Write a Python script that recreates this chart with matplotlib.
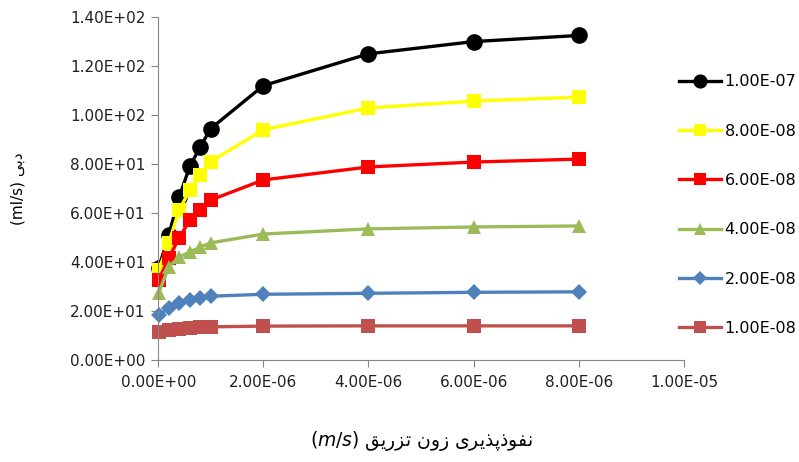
import matplotlib
matplotlib.use('Agg')
import matplotlib.pyplot as plt
from matplotlib.ticker import FuncFormatter, MultipleLocator

# ======================
# data
# ======================
perm = [1e-8, 2e-7, 4e-7, 6e-7, 8e-7, 1e-6, 2e-6, 4e-6, 6e-6, 8e-6]

q_1e7 = [37.5, 51.0, 66.5, 79.0, 87.0, 94.5, 112.0, 125.0, 130.0, 132.5]
q_8e8 = [36.7, 47.8, 61.2, 69.4, 75.5, 81.0, 94.0, 102.9, 105.7, 107.3]
q_6e8 = [32.7, 41.6, 49.8, 57.1, 61.2, 65.3, 73.5, 78.8, 80.8, 82.0]
q_4e8 = [27.3, 38.0, 42.0, 44.0, 46.1, 47.8, 51.4, 53.5, 54.3, 54.7]
q_2e8 = [18.4, 21.2, 23.3, 24.5, 25.3, 26.0, 26.8, 27.2, 27.6, 27.8]
q_1e8 = [11.4, 12.2, 12.7, 13.0, 13.3, 13.5, 13.8, 13.9, 13.9, 13.9]

labels = ['1.00E-07', '8.00E-08', '6.00E-08', '4.00E-08', '2.00E-08', '1.00E-08']
series = [q_1e7, q_8e8, q_6e8, q_4e8, q_2e8, q_1e8]
colors = ['#000000', '#FFFF00', '#FF0000', '#9BBB59', '#4F81BD', '#C0504D']
markers = ['o', 's', 's', '^', 'D', 's']
msizes = [12, 10.5, 10.5, 10.5, 8.5, 10.5]

xlabel_fa = 'نفوذپذیری زون تزریق'
ylabel_fa = 'دبی'


# matplotlib has no arabic shaping -> small hand-made shaper
FORMS = {
    'ن': '\uFEE5\uFEE6\uFEE7\uFEE8',
    'ف': '\uFED1\uFED2\uFED3\uFED4',
    'پ': '\uFB56\uFB57\uFB58\uFB59',
    'ی': '\uFBFC\uFBFD\uFBFE\uFBFF',
    'ت': '\uFE95\uFE96\uFE97\uFE98',
    'ق': '\uFED5\uFED6\uFED7\uFED8',
    'ب': '\uFE8F\uFE90\uFE91\uFE92',
    'و': '\uFEED\uFEEE',
    'ذ': '\uFEAB\uFEAC',
    'ر': '\uFEAD\uFEAE',
    'ز': '\uFEAF\uFEB0',
    'د': '\uFEA9\uFEAA',
}


def shape(txt):
    out = []
    for i, ch in enumerate(txt):
        if ch not in FORMS:
            out.append(ch)
            continue
        prev = txt[i - 1] if i > 0 else ''
        nxt = txt[i + 1] if i + 1 < len(txt) else ''
        dual = len(FORMS[ch]) == 4
        join_prev = prev in FORMS and len(FORMS[prev]) == 4
        join_next = dual and nxt in FORMS
        idx = (1 if join_prev else 0) + (2 if join_next else 0)
        out.append(FORMS[ch][idx])
    return ''.join(out)[::-1]


# ======================
# plot
# ======================
fig = plt.figure(figsize=(7.99, 4.62), dpi=100)
ax = fig.add_axes([0.198, 0.221, 0.658, 0.742])

for ys, lab, c, m, ms in zip(series, labels, colors, markers, msizes):
    ax.plot(perm, ys, color=c, marker=m, markersize=ms, linewidth=2.4,
            label=lab, markeredgewidth=0, clip_on=False)

ax.set_xlim(0, 1e-5)
ax.set_ylim(0, 140)
ax.xaxis.set_major_locator(MultipleLocator(2e-6))
ax.yaxis.set_major_locator(MultipleLocator(20))
fmt = FuncFormatter(lambda v, p: '%.2E' % v)
ax.xaxis.set_major_formatter(fmt)
ax.yaxis.set_major_formatter(fmt)

for s in ['top', 'right']:
    ax.spines[s].set_visible(False)
for s in ['left', 'bottom']:
    ax.spines[s].set_color('#868686')
ax.tick_params(axis='both', direction='out', length=5, color='#868686',
               labelsize=11, labelcolor='#202020')
ax.tick_params(axis='y', pad=4)
ax.tick_params(axis='x', pad=6)

plt.rcParams['mathtext.fontset'] = 'dejavuserif'
ax.set_xlabel(r'$(m/s)$ ' + shape(xlabel_fa), fontsize=13.5,
              family=['DejaVu Sans'], labelpad=28)
ax.set_ylabel('(ml/s) ' + shape(ylabel_fa), fontsize=11,
              family=['DejaVu Sans'], labelpad=32)

fig.legend(*ax.get_legend_handles_labels(), loc='center left',
           bbox_to_anchor=(0.832, 0.556), frameon=False,
           fontsize=11.5, handlelength=2.6, labelspacing=2.15,
           handletextpad=0.25, markerscale=0.85)

fig.savefig('out.png', dpi=100)
